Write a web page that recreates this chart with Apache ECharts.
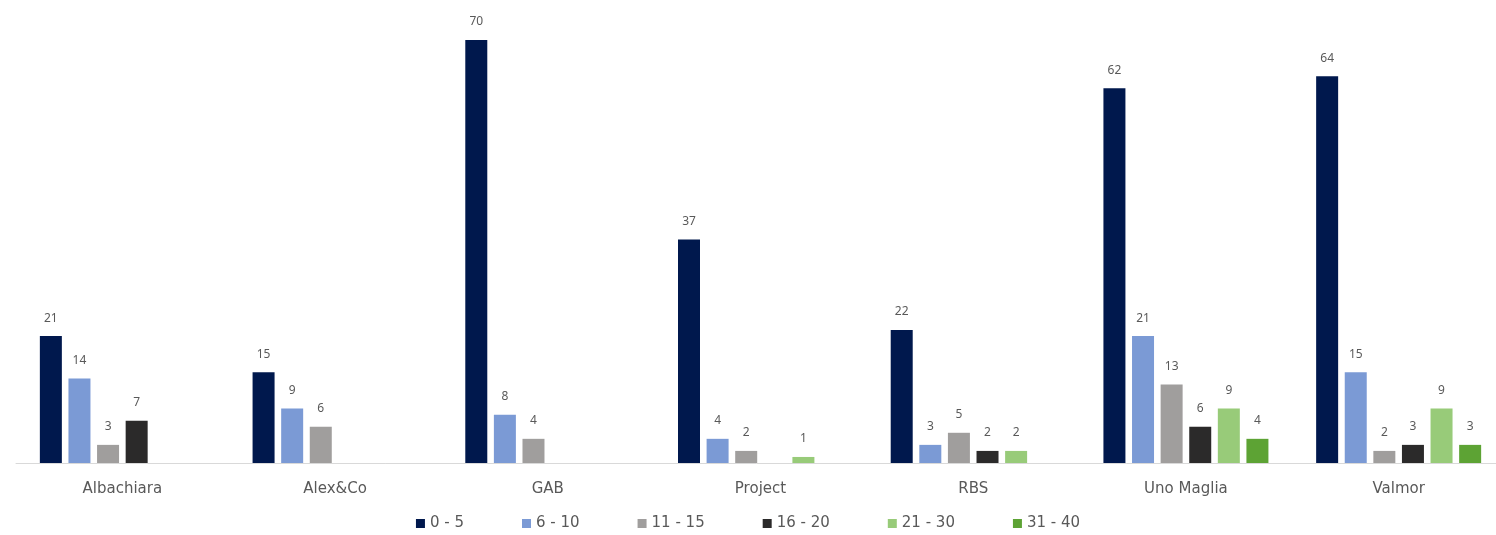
<!DOCTYPE html>
<html>
<head>
<meta charset="utf-8">
<script src="https://cdn.jsdelivr.net/npm/echarts@6/dist/echarts.min.js"></script>
<style>html,body{margin:0;padding:0;background:#fff;}#c{width:1496px;height:535px;}</style>
</head>
<body>
<div id="c"></div>
<script>
const categories = ['Albachiara', 'Alex&Co', 'GAB', 'Project', 'RBS', 'Uno Maglia', 'Valmor'];
const seriesNames = ['0 - 5', '6 - 10', '11 - 15', '16 - 20', '21 - 30', '31 - 40'];
const s0_5   = [21, 15, 70, 37, 22, 62, 64];
const s6_10  = [14, 9, 8, 4, 3, 21, 15];
const s11_15 = [3, 6, 4, 2, 5, 13, 2];
const s16_20 = [7, null, null, null, 2, 6, 3];
const s21_30 = [null, null, null, 1, 2, 9, 9];
const s31_40 = [null, null, null, null, null, 4, 3];
const seriesData = [s0_5, s6_10, s11_15, s16_20, s21_30, s31_40];
const colors = ['#00184D', '#7B9AD5', '#A09E9D', '#2B2A2A', '#98CB79', '#5DA334'];

const FONT = 'DejaVu Sans';
const chart = echarts.init(document.getElementById('c'));
chart.setOption({
  animation: false,
  color: colors,
  textStyle: { fontFamily: FONT },
  grid: { left: 16, width: 1489, top: 40, bottom: 72, containLabel: false, outerBoundsMode: 'none' },
  legend: {
    bottom: -1,
    left: 'center',
    icon: 'rect',
    itemWidth: 9,
    itemHeight: 9,
    itemGap: 58,
    textStyle: { color: '#595959', fontSize: 15, fontFamily: FONT },
    data: seriesNames
  },
  xAxis: {
    type: 'category',
    data: categories,
    axisLine: { show: true, lineStyle: { color: '#D9D9D9', width: 1 } },
    axisTick: { show: false },
    axisLabel: { color: '#595959', fontSize: 15, margin: 19, fontFamily: FONT }
  },
  yAxis: {
    type: 'value',
    min: 0,
    max: 70,
    show: false,
    splitLine: { show: false }
  },
  series: seriesNames.map((name, i) => ({
    name: name,
    type: 'bar',
    data: seriesData[i],
    barWidth: 22,
    barGap: '30%',
    itemStyle: { color: colors[i] },
    label: {
      show: true,
      position: 'top',
      distance: 12,
      color: '#595959',
      fontSize: 12,
      fontFamily: 'Noto Sans'
    }
  }))
});
</script>
</body>
</html>
